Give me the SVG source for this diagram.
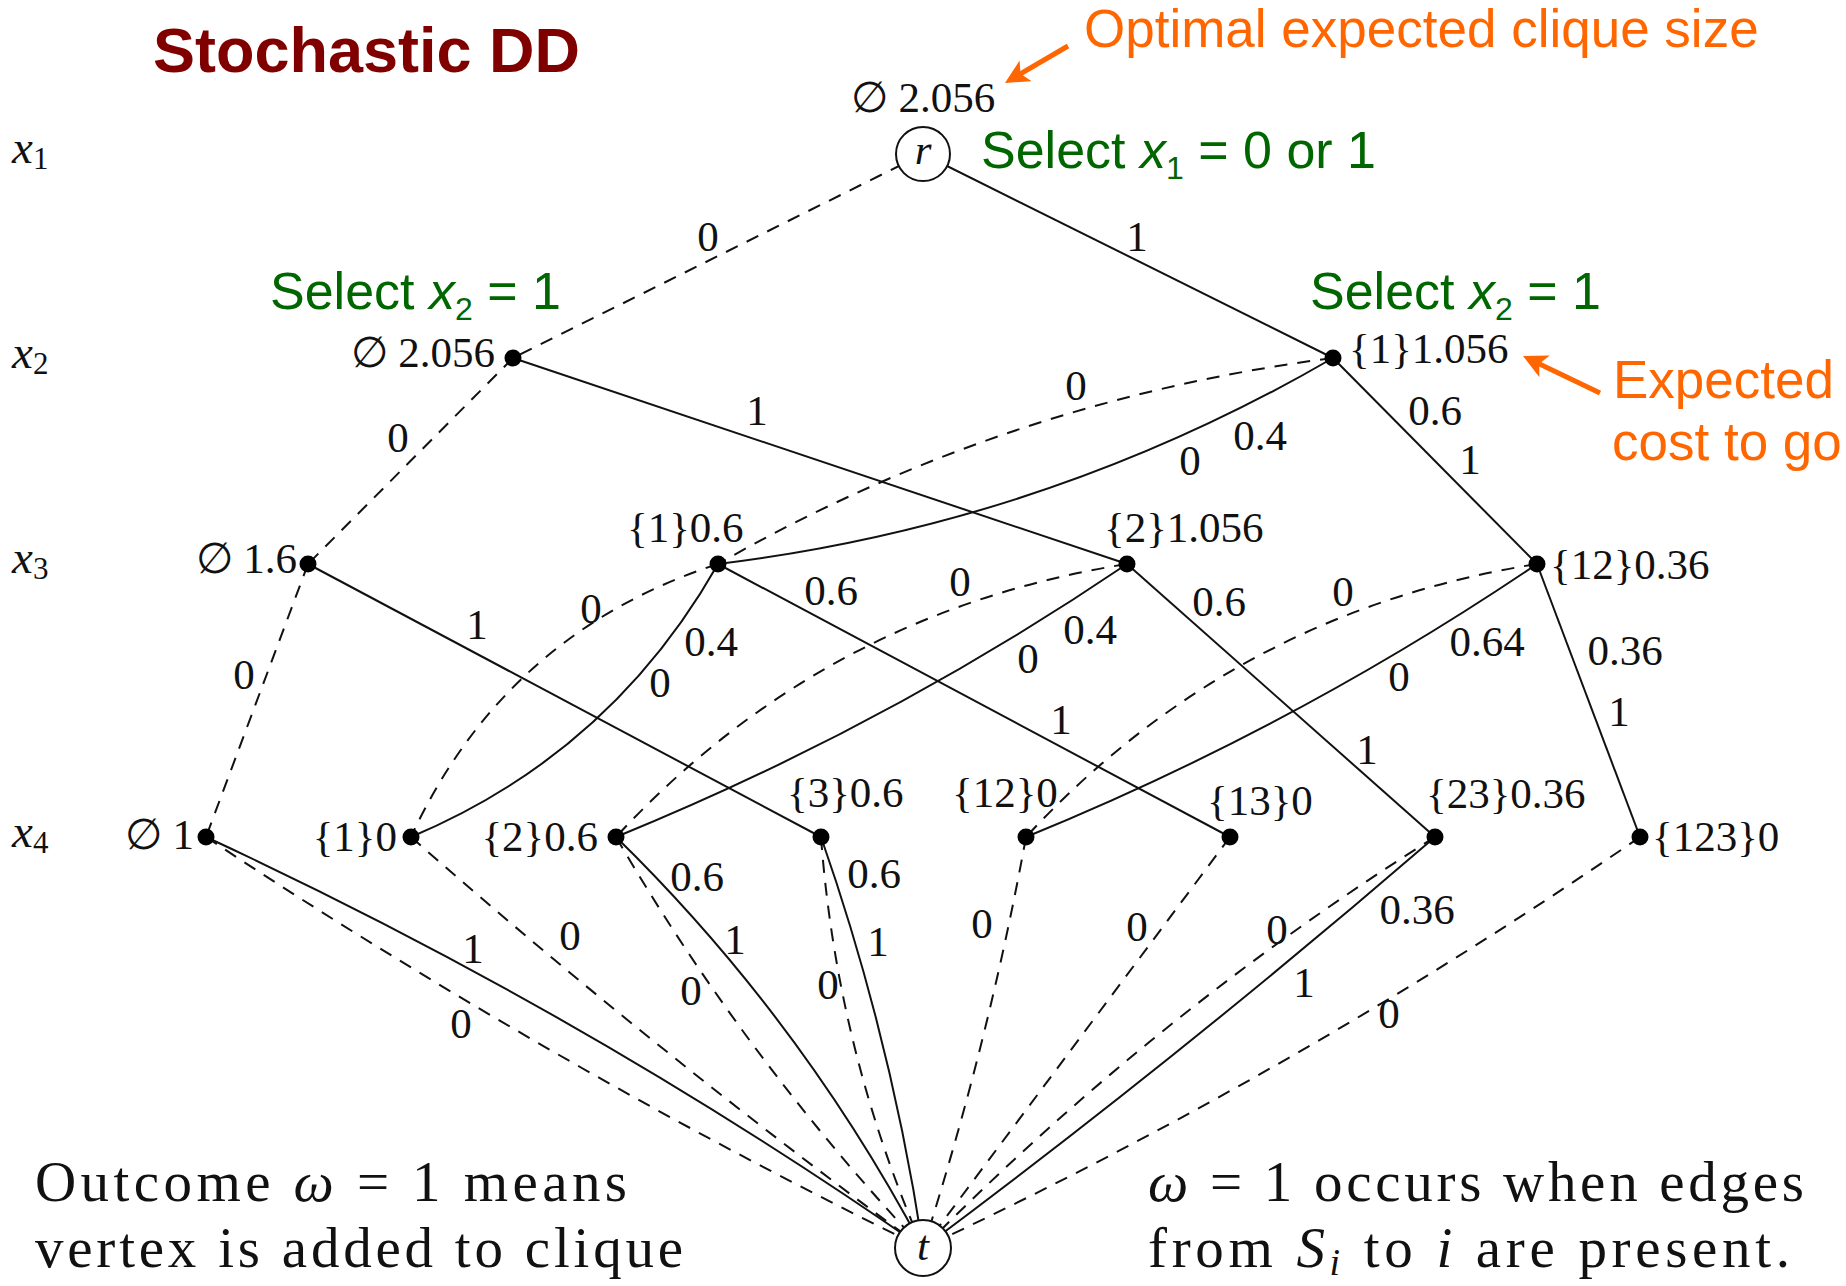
<svg xmlns="http://www.w3.org/2000/svg" width="1846" height="1286" viewBox="0 0 1846 1286">
<style>
.bg{fill:#fff}
.e{fill:none;stroke:#111;stroke-width:2}
.d{fill:none;stroke:#111;stroke-width:2;stroke-dasharray:13 10}
.dot{fill:#000}
.circ{fill:#fff;stroke:#111;stroke-width:2}
.s{font-family:"Liberation Serif","DejaVu Serif",serif;font-size:43px;fill:#111}
.m{text-anchor:middle}
.en{text-anchor:end}
.it{font-style:italic}
.lv{font-family:"Liberation Serif","DejaVu Serif",serif;font-size:47px;font-style:italic;fill:#111}
.g{font-family:"Liberation Sans",Arial,sans-serif;font-size:52px;fill:#006600}
.o{font-family:"Liberation Sans",Arial,sans-serif;font-size:53px;fill:#FF6600}
.ttl{font-family:"Liberation Sans",Arial,sans-serif;font-size:63px;font-weight:bold;fill:#800000}
.big{font-family:"Liberation Serif","DejaVu Serif",serif;font-size:57px;fill:#111}
.oa{fill:none;stroke:#FF6600;stroke-width:5}
</style>
<defs>
<marker id="oh" markerUnits="userSpaceOnUse" markerWidth="24" markerHeight="24" refX="12" refY="12" orient="auto" viewBox="0 0 24 24">
<path d="M0,0 L24,12 L0,24 L6,12 Z" fill="#FF6600"/>
</marker>
</defs>
<rect class="bg" x="0" y="0" width="1846" height="1286"/>

<g id="titles">
<text class="ttl" x="153" y="72">Stochastic DD</text>
<text class="o" x="1084" y="47">Optimal expected clique size</text>
<text class="o" x="1613" y="398">Expected</text>
<text class="o" x="1612" y="460">cost to go</text>
<text class="g" x="981" y="168">Select <tspan font-style="italic">x</tspan><tspan font-size="32" dy="11">1</tspan><tspan dy="-11"> = 0 or 1</tspan></text>
<text class="g" x="270" y="309">Select <tspan font-style="italic">x</tspan><tspan font-size="32" dy="11">2</tspan><tspan dy="-11"> = 1</tspan></text>
<text class="g" x="1310" y="309">Select <tspan font-style="italic">x</tspan><tspan font-size="32" dy="11">2</tspan><tspan dy="-11"> = 1</tspan></text>
<line class="oa" x1="1068" y1="46" x2="1015.3" y2="76.9" marker-end="url(#oh)"/>
<line class="oa" x1="1600" y1="393" x2="1533.8" y2="361.2" marker-end="url(#oh)"/>
</g>

<g id="levels">
<text class="lv" x="12" y="163">x<tspan font-size="31" font-style="normal" dy="6">1</tspan></text>
<text class="lv" x="12" y="368">x<tspan font-size="31" font-style="normal" dy="6">2</tspan></text>
<text class="lv" x="12" y="573">x<tspan font-size="31" font-style="normal" dy="6">3</tspan></text>
<text class="lv" x="12" y="847">x<tspan font-size="31" font-style="normal" dy="6">4</tspan></text>
</g>

<g id="connectors">
<path class="d" d="M923,154 L513,358"/>
<path class="e" d="M923,154 L1333,358"/>
<path class="d" d="M513,358 L308,564"/>
<path class="e" d="M513,358 L1127,564"/>
<path class="d" d="M1333,358 Q1005,400 718,564"/>
<path class="e" d="M1333,358 Q1047,524 718,564"/>
<path class="e" d="M1333,358 L1537,564"/>
<path class="d" d="M308,564 L206,837"/>
<path class="e" d="M308,564 L821,837"/>
<path class="d" d="M718,564 Q505,633 411,837"/>
<path class="e" d="M718,564 Q611,753 411,837"/>
<path class="e" d="M718,564 L1230,837"/>
<path class="d" d="M1127,564 Q824,612 616,837"/>
<path class="e" d="M1127,564 Q886,727 616,837"/>
<path class="e" d="M1127,564 L1435,837"/>
<path class="d" d="M1537,564 Q1234,612 1026,837"/>
<path class="e" d="M1537,564 Q1296,727 1026,837"/>
<path class="e" d="M1537,564 L1640,837"/>
<path class="e" d="M206,837 Q582,1011 923,1248"/>
<path class="d" d="M206,837 Q551,1066 923,1248"/>
<path class="d" d="M411,837 Q658,1054 923,1248"/>
<path class="e" d="M616,837 Q801,1018 923,1248"/>
<path class="d" d="M616,837 Q746,1060 923,1248"/>
<path class="e" d="M821,837 Q891,1037 923,1248"/>
<path class="d" d="M821,837 Q837,1051 923,1248"/>
<path class="d" d="M1026,837 Q988,1045 923,1248"/>
<path class="d" d="M1230,837 L923,1248"/>
<path class="d" d="M1435,837 Q1155,1013 923,1248"/>
<path class="e" d="M1435,837 Q1186,1052 923,1248"/>
<path class="d" d="M1640,837 Q1298,1072 923,1248"/>
</g>

<g id="edge-labels" class="s m">
<text x="708" y="251">0</text>
<text x="1137" y="251">1</text>
<text x="398" y="452">0</text>
<text x="757" y="425">1</text>
<text x="1076" y="400">0</text>
<text x="1260" y="450">0.4</text>
<text x="1190" y="475">0</text>
<text x="1435" y="425">0.6</text>
<text x="1470" y="474">1</text>
<text x="244" y="689">0</text>
<text x="477" y="639">1</text>
<text x="591" y="623">0</text>
<text x="711" y="656">0.4</text>
<text x="660" y="697">0</text>
<text x="831" y="605">0.6</text>
<text x="1061" y="734">1</text>
<text x="960" y="596">0</text>
<text x="1090" y="644">0.4</text>
<text x="1028" y="673">0</text>
<text x="1219" y="616">0.6</text>
<text x="1367" y="764">1</text>
<text x="1343" y="606">0</text>
<text x="1487" y="656">0.64</text>
<text x="1399" y="691">0</text>
<text x="1625" y="665">0.36</text>
<text x="1619" y="726">1</text>
<text x="473" y="963">1</text>
<text x="461" y="1038">0</text>
<text x="570" y="950">0</text>
<text x="697" y="891">0.6</text>
<text x="735" y="954">1</text>
<text x="691" y="1005">0</text>
<text x="874" y="888">0.6</text>
<text x="878" y="956">1</text>
<text x="828" y="999">0</text>
<text x="982" y="938">0</text>
<text x="1137" y="941">0</text>
<text x="1277" y="944">0</text>
<text x="1417" y="924">0.36</text>
<text x="1304" y="997">1</text>
<text x="1389" y="1028">0</text>
</g>

<g id="node-r">
<circle class="circ" cx="923" cy="154" r="27"/>
<text class="s m it" x="923" y="164" font-size="40">r</text>
<text class="s m" x="923" y="112">∅ 2.056</text>
</g>
<g id="node-x2-empty">
<circle class="dot" cx="513" cy="358" r="8.5"/>
<text class="s en" x="495" y="367">∅ 2.056</text>
</g>
<g id="node-x2-1">
<circle class="dot" cx="1333" cy="358" r="8.5"/>
<text class="s" x="1349" y="363">{1}1.056</text>
</g>
<g id="node-x3-empty">
<circle class="dot" cx="308" cy="564" r="8.5"/>
<text class="s en" x="297" y="573">∅ 1.6</text>
</g>
<g id="node-x3-1">
<circle class="dot" cx="718" cy="564" r="8.5"/>
<text class="s" x="627" y="542">{1}0.6</text>
</g>
<g id="node-x3-2">
<circle class="dot" cx="1127" cy="564" r="8.5"/>
<text class="s" x="1104" y="542">{2}1.056</text>
</g>
<g id="node-x3-12">
<circle class="dot" cx="1537" cy="564" r="8.5"/>
<text class="s" x="1550" y="579">{12}0.36</text>
</g>
<g id="node-x4-empty">
<circle class="dot" cx="206" cy="837" r="8.5"/>
<text class="s en" x="194" y="849">∅ 1</text>
</g>
<g id="node-x4-1">
<circle class="dot" cx="411" cy="837" r="8.5"/>
<text class="s en" x="397" y="851">{1}0</text>
</g>
<g id="node-x4-2">
<circle class="dot" cx="616" cy="837" r="8.5"/>
<text class="s en" x="598" y="851">{2}0.6</text>
</g>
<g id="node-x4-3">
<circle class="dot" cx="821" cy="837" r="8.5"/>
<text class="s" x="787" y="807">{3}0.6</text>
</g>
<g id="node-x4-12">
<circle class="dot" cx="1026" cy="837" r="8.5"/>
<text class="s" x="952" y="807">{12}0</text>
</g>
<g id="node-x4-13">
<circle class="dot" cx="1230" cy="837" r="8.5"/>
<text class="s" x="1207" y="815">{13}0</text>
</g>
<g id="node-x4-23">
<circle class="dot" cx="1435" cy="837" r="8.5"/>
<text class="s" x="1426" y="808">{23}0.36</text>
</g>
<g id="node-x4-123">
<circle class="dot" cx="1640" cy="837" r="8.5"/>
<text class="s" x="1652" y="851">{123}0</text>
</g>
<g id="node-t">
<circle class="circ" cx="923" cy="1248" r="28"/>
<text class="s m it" x="923" y="1260">t</text>
</g>

<g id="notes">
<text class="big" x="35" y="1201" textLength="592">Outcome <tspan font-style="italic">ω</tspan> = 1 means</text>
<text class="big" x="35" y="1267" textLength="648">vertex is added to clique</text>
<text class="big" x="1148" y="1201" textLength="656"><tspan font-style="italic">ω</tspan> = 1 occurs when edges</text>
<text class="big" x="1148" y="1267" textLength="642">from <tspan font-style="italic">S</tspan><tspan font-style="italic" font-size="38" dy="8">i</tspan><tspan dy="-8"> to </tspan><tspan font-style="italic">i</tspan> are present.</text>
</g>
</svg>
